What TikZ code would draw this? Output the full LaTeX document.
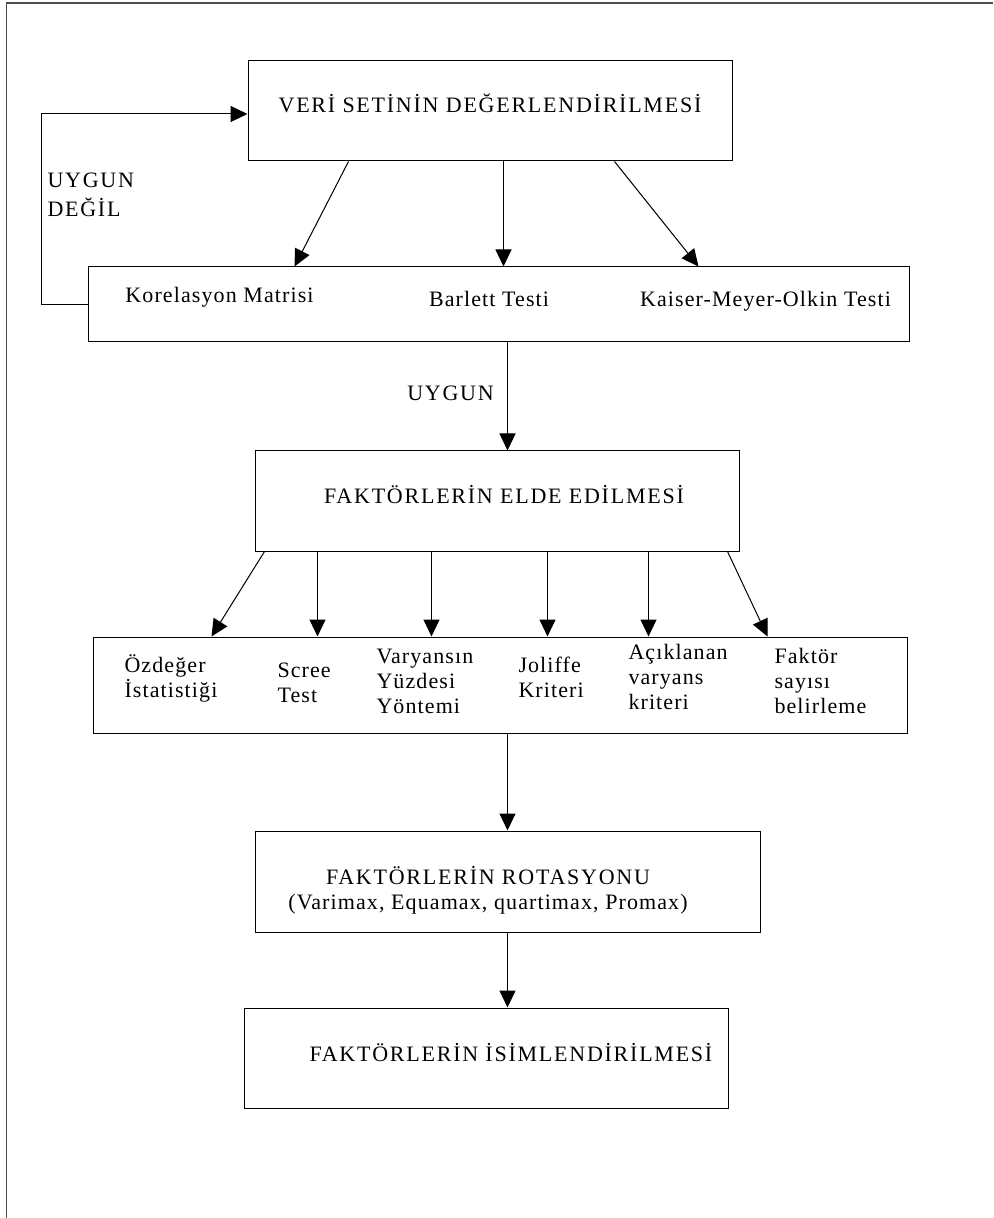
\documentclass[tikz,border=0pt]{standalone}
\usepackage{fontspec}
\setmainfont{Liberation Serif}[LetterSpace=5]
\newfontfamily\buyuk{Liberation Serif}[LetterSpace=8]
\usetikzlibrary{arrows.meta,calc,positioning}

\begin{document}
\begin{tikzpicture}[x=0.5pt,y=-0.5pt,line width=0.5pt,
  font=\fontsize{11}{12.5}\selectfont,
  >={Triangle[length=8.5pt,width=8pt]},
  kutu/.style={draw,inner sep=0pt},
  yazi/.style={inner sep=0pt,anchor=base},
  baslik/.style={yazi,font=\fontsize{11}{12.5}\buyuk},
  liste/.style={inner sep=0pt,anchor=north west,align=left}]
  \useasboundingbox (0,0) rectangle (993,1218);
  \draw[black!70,line width=0.8pt] (6.5,1218) -- (6.5,3) -- (993,3);

  \node[kutu,minimum width=242pt,minimum height=50pt] (veri) at (490,111) {};
  \node[kutu,minimum width=410.5pt,minimum height=37.5pt] (test) at (498.5,304.5) {};
  \node[kutu,minimum width=242pt,minimum height=50pt] (elde) at (497,501) {};
  \node[kutu,minimum width=407pt,minimum height=48pt] (secim) at (500,685) {};
  \node[kutu,minimum width=252.5pt,minimum height=50.5pt] (rot) at (507.5,881.5) {};
  \node[kutu,minimum width=242pt,minimum height=50pt] (isim) at (486,1058) {};

  \node[baslik] (veriyazi) at (490,113) {VERİ SETİNİN DEĞERLENDİRİLMESİ};
  \node[yazi] (kor) at (219.5,303) {Korelasyon Matrisi};
  \node[yazi] (bar) at (489,307) {Barlett Testi};
  \node[yazi] (kmo) at (765.5,307) {Kaiser-Meyer-Olkin Testi};
  \node[liste,font=\fontsize{11}{12.5}\buyuk] (degil) at (47,167) {\rule{0pt}{10pt}UYGUN\\[2pt]DEĞİL};
  \node[baslik] (uygun) at (450.5,401) {UYGUN};
  \node[baslik] (eldeyazi) at (504,503) {FAKTÖRLERİN ELDE EDİLMESİ};
  \node[liste,anchor=north,align=center] (rotyazi) at (488,864)
    {\rule{0pt}{10pt}{\buyuk FAKTÖRLERİN ROTASYONU}\\(Varimax, Equamax, quartimax, Promax)};
  \node[baslik,anchor=base west] (isimyazi) at (309,1061) {FAKTÖRLERİN İSİMLENDİRİLMESİ};

  \draw[->] ($(veri.south west)+(101,0)$) -- ($(test.north west)+(207,0)$);
  \draw[->] ($(veri.south west)+(256,0)$) -- ($(test.north west)+(416,0)$);
  \draw[->] ($(veri.south west)+(367,0)$) -- ($(test.north west)+(611,0)$);
  \draw[->] (test.west) -- ++(-46,0) |- ($(veri.west)+(0,3)$);
  \draw[->] ($(test.south west)+(420,0)$) -- ($(elde.north west)+(253,0)$);

  \foreach \a/\b/\x/\y/\metin [count=\i] in {10/119/124/652/{Özdeğer\\İstatistiği},
      63/225/277/657/{Scree\\Test}, 177/339/376/643/{Varyansın\\Yüzdesi\\Yöntemi},
      293/455/518/652/{Joliffe\\Kriteri}, 394/556/628/639/{Açıklanan\\varyans\\kriteri},
      473/675/774/643/{Faktör\\sayısı\\belirleme}} {
    \draw[->] ($(elde.south west)+(\a,0)$) -- ($(secim.north west)+(\b,0)$);
    \node[liste] (k\i) at (\x,\y) {\rule{0pt}{10pt}\metin};
  }

  \draw[->] ($(secim.south west)+(415,0)$) -- ($(rot.north west)+(253,0)$);
  \draw[->] ($(rot.south west)+(253,0)$) -- ($(isim.north west)+(264,0)$);
\end{tikzpicture}
\end{document}
